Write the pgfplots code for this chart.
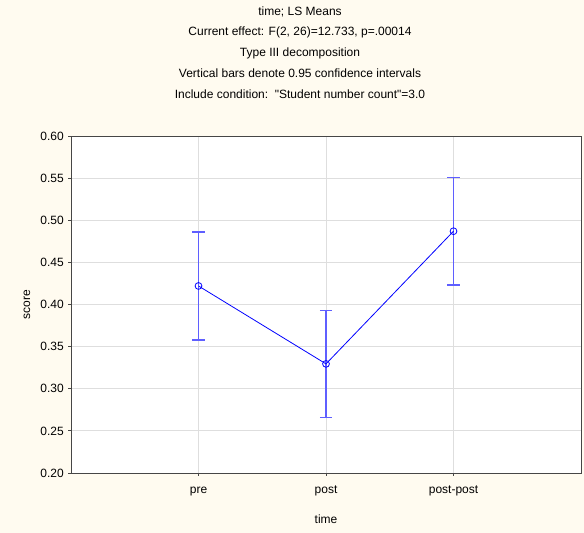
\documentclass[border=0pt]{standalone}
\usepackage{pgfplots}
\pgfplotsset{compat=1.18}
\usepackage{fontspec}
\setmainfont{Liberation Sans}
\newfontfamily\qfont{Liberation Sans}
\definecolor{cream}{RGB}{255,251,240}
\definecolor{axgray}{RGB}{70,70,70}
\definecolor{gridgray}{RGB}{222,222,222}
\definecolor{ebblue}{RGB}{95,95,255}
\begin{document}
\fontsize{12bp}{14bp}\selectfont
\begin{tikzpicture}[x=1bp,y=1bp]
\path[use as bounding box, fill=cream] (0,0) rectangle (584,533);
\begin{axis}[
  at={(71bp,60bp)}, anchor=south west,
  scale only axis, width=510bp, height=337bp,
  axis background/.style={fill=white},
  axis line style={axgray, line width=0.9bp},
  xmin=0, xmax=4, ymin=0.2, ymax=0.6,
  xtick={1,2,3}, xticklabels={pre,post,post-post},
  ytick={0.2,0.25,...,0.61},
  yticklabel style={/pgf/number format/fixed, /pgf/number format/fixed zerofill, /pgf/number format/precision=2, /pgf/number format/assume math mode=true, anchor=east, xshift=0bp},
  xticklabel style={anchor=base, yshift=-18bp},
  tick align=outside, major tick length=3bp,
  tick style={axgray, line width=0.8bp},
  xtick pos=bottom, ytick pos=left,
  grid=major, major grid style={gridgray, line width=0.9bp},
  xlabel={time}, ylabel={score},
  xlabel style={at={(axis description cs:0.5,0)}, anchor=center, yshift=-46bp},
  ylabel style={at={(axis description cs:0,0.5)}, anchor=center, yshift=44bp},
  every axis plot/.append style={line cap=butt},
]
% confidence intervals (lower, upper)
\addplot[ebblue, line width=1.4bp] coordinates {(1,0.358) (1,0.486)};
\addplot[ebblue, line width=1.4bp] coordinates {(0.951,0.358) (1.049,0.358)};
\addplot[ebblue, line width=1.4bp] coordinates {(0.951,0.486) (1.049,0.486)};
\addplot[ebblue, line width=1.4bp] coordinates {(2,0.266) (2,0.393)};
\addplot[ebblue, line width=1.4bp] coordinates {(1.951,0.266) (2.049,0.266)};
\addplot[ebblue, line width=1.4bp] coordinates {(1.951,0.393) (2.049,0.393)};
\addplot[ebblue, line width=1.4bp] coordinates {(3,0.423) (3,0.551)};
\addplot[ebblue, line width=1.4bp] coordinates {(2.951,0.423) (3.049,0.423)};
\addplot[ebblue, line width=1.4bp] coordinates {(2.951,0.551) (3.049,0.551)};
% means
\addplot[color=blue, line width=0.8bp, mark=o, mark size=3.4bp,
  mark options={solid, fill=none, line width=0.8bp, color=blue}]
  coordinates {(1,0.422) (2,0.3295) (3,0.487)};
\end{axis}
\node[anchor=base] at (300,517.7) {time; LS Means};
\node[anchor=base] at (300,497.2) {Current effect: F(2, 26)=12.733, p=.00014};
\node[anchor=base] at (300,476.7) {Type III decomposition};
\node[anchor=base] at (300,455.7) {Vertical bars denote 0.95 confidence intervals};
\node[anchor=base] at (300,434.7) {Include condition:\ \ {\qfont "Student number count"=3.0}};
\end{tikzpicture}
\end{document}
